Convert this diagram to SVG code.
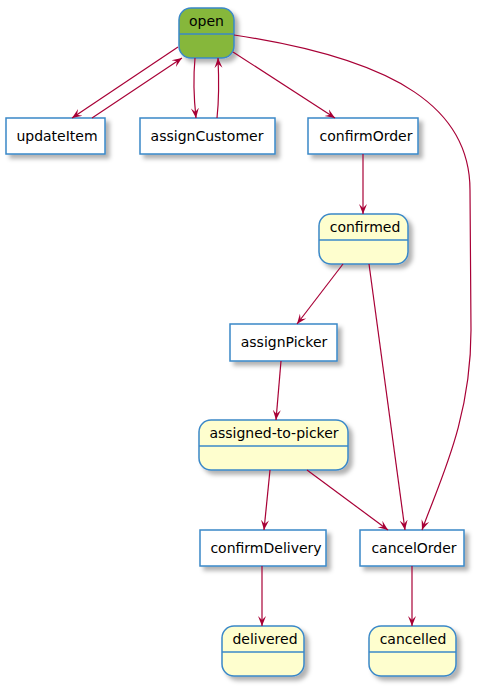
<svg xmlns="http://www.w3.org/2000/svg" width="485" height="686" viewBox="0 0 485 686">
<style>
.st{fill:#FEFECE;stroke:#3A88C8;stroke-width:1.5}
.op{fill:#86B73B;stroke:#3A88C8;stroke-width:1.5}
.bx{fill:#FFFFFF;stroke:#3A88C8;stroke-width:1.5}
.sep{stroke:#3A88C8;stroke-width:1.5}
.t{font-family:"DejaVu Sans",sans-serif;font-size:14px;fill:#000;text-anchor:middle}
.e{fill:none;stroke:#A80036;stroke-width:1.2}
</style>
<defs>
<filter id="sh" x="-20%" y="-20%" width="150%" height="160%">
<feDropShadow dx="4" dy="4" stdDeviation="2" flood-color="#000" flood-opacity="0.3"/>
</filter>
<marker id="ar" markerUnits="userSpaceOnUse" markerWidth="10" markerHeight="10" refX="10" refY="5" orient="auto">
<path d="M0,1 L10,5 L0,9 L4,5 Z" fill="#A80036"/>
</marker>
</defs>
<g id="open">
<rect class="op" x="179" y="8" width="55" height="50" rx="12" filter="url(#sh)"/>
<line class="sep" x1="179" y1="34" x2="234" y2="34"/>
<text class="t" x="206.5" y="26">open</text>
</g>
<g id="updateItem">
<rect class="bx" x="6" y="118" width="99" height="36" filter="url(#sh)"/>
<text class="t" x="57" y="141">updateItem</text>
</g>
<g id="assignCustomer">
<rect class="bx" x="140" y="118" width="135" height="36" filter="url(#sh)"/>
<text class="t" x="207" y="141">assignCustomer</text>
</g>
<g id="confirmOrder">
<rect class="bx" x="308" y="118" width="110" height="36" filter="url(#sh)"/>
<text class="t" x="366" y="141">confirmOrder</text>
</g>
<g id="confirmed">
<rect class="st" x="319" y="214" width="89" height="50" rx="12" filter="url(#sh)"/>
<line class="sep" x1="319" y1="240" x2="408" y2="240"/>
<text class="t" x="365" y="232">confirmed</text>
</g>
<g id="assignPicker">
<rect class="bx" x="230" y="324" width="107" height="37" filter="url(#sh)"/>
<text class="t" x="284" y="347">assignPicker</text>
</g>
<g id="assigned-to-picker">
<rect class="st" x="199" y="420" width="149" height="50" rx="12" filter="url(#sh)"/>
<line class="sep" x1="199" y1="446" x2="348" y2="446"/>
<text class="t" x="274" y="438">assigned-to-picker</text>
</g>
<g id="confirmDelivery">
<rect class="bx" x="200" y="530" width="126" height="36" filter="url(#sh)"/>
<text class="t" x="266" y="553">confirmDelivery</text>
</g>
<g id="cancelOrder">
<rect class="bx" x="360" y="530" width="104" height="36" filter="url(#sh)"/>
<text class="t" x="414" y="553">cancelOrder</text>
</g>
<g id="delivered">
<rect class="st" x="222" y="626" width="82" height="50" rx="12" filter="url(#sh)"/>
<line class="sep" x1="222" y1="652" x2="304" y2="652"/>
<text class="t" x="265" y="644">delivered</text>
</g>
<g id="cancelled">
<rect class="st" x="369" y="626" width="87" height="50" rx="12" filter="url(#sh)"/>
<line class="sep" x1="369" y1="652" x2="456" y2="652"/>
<text class="t" x="413" y="644">cancelled</text>
</g>
<g id="connectors">
<path class="e" marker-end="url(#ar)" d="M178,47 L72,118"/>
<path class="e" marker-end="url(#ar)" d="M92,118 L182,58"/>
<path class="e" marker-end="url(#ar)" d="M195,58 C193,80 194,100 196,118"/>
<path class="e" marker-end="url(#ar)" d="M217,118 C219,100 219,80 218,58"/>
<path class="e" marker-end="url(#ar)" d="M233,52 L335,118"/>
<path class="e" marker-end="url(#ar)" d="M234,35 C400,60 470,110 470,190 L471,330 C471,420 440,480 422,530"/>
<path class="e" marker-end="url(#ar)" d="M363,154 L363,214"/>
<path class="e" marker-end="url(#ar)" d="M343,264 L297,324"/>
<path class="e" marker-end="url(#ar)" d="M369,264 L405,530"/>
<path class="e" marker-end="url(#ar)" d="M281,361 L276,420"/>
<path class="e" marker-end="url(#ar)" d="M270,470 L264,530"/>
<path class="e" marker-end="url(#ar)" d="M307,470 L388,530"/>
<path class="e" marker-end="url(#ar)" d="M262,566 L262,626"/>
<path class="e" marker-end="url(#ar)" d="M412,566 L412,626"/>
</g>
</svg>
